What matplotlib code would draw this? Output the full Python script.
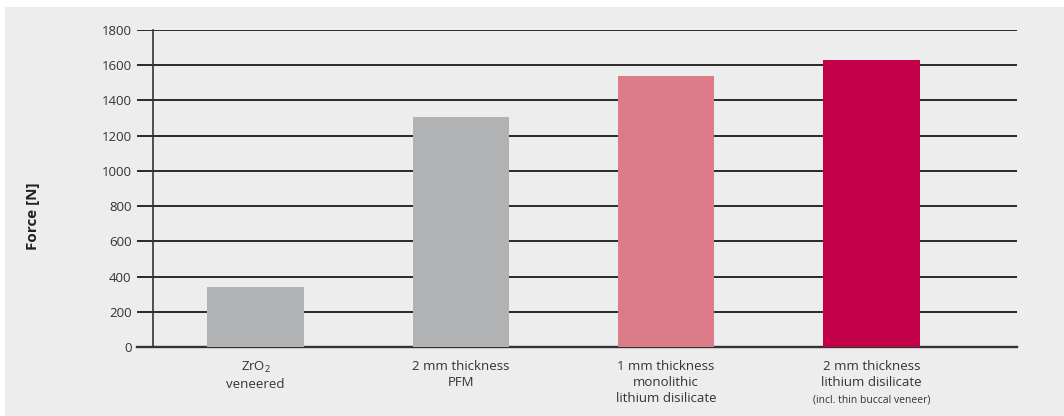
import matplotlib.pyplot as plt
from matplotlib.patches import Rectangle

# values
categories = ['ZrO$_\\mathregular{2}$\nveneered',
              '2 mm thickness\nPFM',
              '1 mm thickness\nmonolithic\nlithium disilicate',
              '2 mm thickness\nlithium disilicate']
notes = ['', '', '', '(incl. thin buccal veneer)']
force = [340, 1305, 1540, 1630]
yticks = [0, 200, 400, 600, 800, 1000, 1200, 1400, 1600, 1800]

BG = '#ECEDEC'
GREY = '#B1B2B3'
PINK = '#DC7C88'
CRIMSON = '#C3004A'
INK = '#1A1A1A'
bar_colors = [GREY, GREY, PINK, CRIMSON]

plt.rcParams['font.family'] = ['Open Sans', 'DejaVu Sans']
plt.rcParams['mathtext.fontset'] = 'custom'
plt.rcParams['mathtext.rm'] = 'Open Sans'

W, H = 1064, 416
fig = plt.figure(figsize=(W / 100, H / 100), dpi=100, facecolor='white')
# grey panel with a thin white strip on top and left
panel = Rectangle((5 / W, 0), 1, 1 - 7 / H, transform=fig.transFigure,
                  facecolor=BG, edgecolor='none', zorder=-10)
fig.add_artist(panel)

# axes spans from the left end of the grid lines to their right end
left, right = 137 / W, 1017 / W
bottom, top = 1 - 347 / H, 1 - 30 / H
ax = fig.add_axes([left, bottom, right - left, top - bottom])
ax.set_zorder(5)
ax.set_facecolor('none')

x = list(range(len(categories)))
ax.bar(x, force, width=0.47, color=bar_colors, zorder=3)

ax.set_xlim(-0.578, 3.71)
ax.set_ylim(0, 1800)
ax.set_yticks(yticks)
ax.tick_params(axis='y', length=0, pad=15.5, labelsize=9.5, labelcolor='#333333')
ax.set_xticks([])

for v in yticks[1:]:
    ax.axhline(v, color=INK, lw=1.3, zorder=1)

for s in ['top', 'right']:
    ax.spines[s].set_visible(False)
ax.spines['left'].set_position(('data', -0.5))
ax.spines['left'].set_color('#333333')
ax.spines['left'].set_linewidth(1.2)
ax.spines['bottom'].set_color('#333333')
ax.spines['bottom'].set_linewidth(1.7)

# category labels under the bars
for xi, lab, note in zip(x, categories, notes):
    ax.text(xi, -0.04, lab, transform=ax.get_xaxis_transform(), ha='center', va='top',
            fontsize=9.5, color='#333333', linespacing=1.3)
    if note:
        ax.text(xi, -0.04 - 0.11, note, transform=ax.get_xaxis_transform(),
                ha='center', va='top', fontsize=7.5, color='#333333')

fig.text(33 / W, 1 - 216 / H, 'Force [N]', rotation=90, ha='center', va='center',
         fontsize=11, fontweight='bold', color='#222222')

fig.savefig('out.png', dpi=100, facecolor='white')
